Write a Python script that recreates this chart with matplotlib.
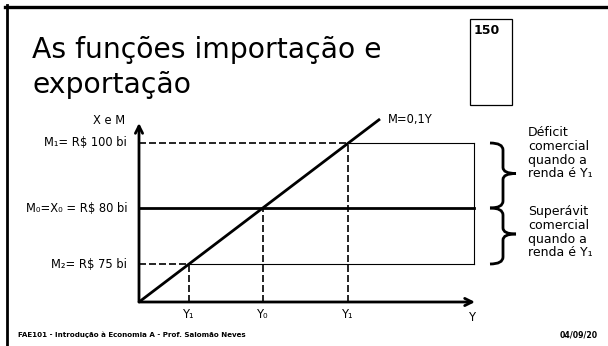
import matplotlib
matplotlib.use("Agg")
import matplotlib.pyplot as plt
from matplotlib.path import Path
from matplotlib.patches import PathPatch, Rectangle

plt.rcParams['font.family'] = ['DejaVu Sans']

# schematic values (diagram units, origin at the axes corner)
level_names = ["M₂= R$ 75 bi", "M₀=X₀ = R$ 80 bi", "M₁= R$ 100 bi"]
level_y = [38, 94, 159]
income_names = ["Y₁", "Y₀", "Y₁"]
income_x = [50, 124, 209]
line_x = [0, 241]
line_y = [0, 183]
box_right = 335
axis_len = [336, 179]
notes = ["Déficit\ncomercial\nquando a\nrenda é Y₁",
         "Superávit\ncomercial\nquando a\nrenda é Y₁"]

fig = plt.figure(figsize=(6.08, 3.46), dpi=100)

# slide background layer in pixel units
bg = fig.add_axes([0, 0, 1, 1])
bg.set_xlim(0, 608)
bg.set_ylim(346, 0)
bg.axis('off')

bg.plot([5, 608], [6.5, 6.5], color='black', lw=2.4)
bg.plot([7, 7], [5, 346], color='black', lw=2.0)

bg.text(32, 58, "As funções importação e", fontsize=20.3, va='baseline', ha='left')
bg.text(32, 93, "exportação", fontsize=20.3, va='baseline', ha='left')

bg.add_patch(Rectangle((470, 19), 42, 86, fill=False, ec='black', lw=0.9))
bg.text(474, 31, "150", fontsize=9, fontweight='bold', va='center', ha='left')

bg.text(18, 337, "FAE101 - Introdução à Economia A - Prof. Salomão Neves",
        fontsize=5.1, fontweight='bold', va='baseline', ha='left')
bg.text(598, 337, "04/09/20", fontsize=5.6, fontweight='bold', va='baseline', ha='right')


def brace(y0, y1, x0=490, x1=503, tip=516):
    ym = (y0 + y1) / 2 - 2
    upper = Path([(x0, y0), (x1, y0), (x1, y0 + 7), (x1, ym - 6), (x1, ym), (tip, ym)],
                 [Path.MOVETO, Path.CURVE3, Path.CURVE3, Path.LINETO, Path.CURVE3, Path.CURVE3])
    lower = Path([(tip, ym), (x1, ym), (x1, ym + 6), (x1, y1 - 7), (x1, y1), (x0, y1)],
                 [Path.MOVETO, Path.CURVE3, Path.CURVE3, Path.LINETO, Path.CURVE3, Path.CURVE3])
    for p in (upper, lower):
        bg.add_patch(PathPatch(p, fill=False, lw=2.0, ec='black'))


brace(143, 208)
brace(208, 264)

bg.text(528, 126, notes[0], fontsize=9, va='top', ha='left', linespacing=1.08)
bg.text(528, 205, notes[1], fontsize=9, va='top', ha='left', linespacing=1.08)

# diagram axes
W, H = 608, 346
ox, oy = 139, 302
ax = fig.add_axes([ox / W, (H - oy) / H, axis_len[0] / W, axis_len[1] / H])
ax.set_xlim(0, axis_len[0])
ax.set_ylim(0, axis_len[1])
ax.axis('off')

for tip in [(0, axis_len[1]), (axis_len[0], 0)]:
    ax.annotate("", xy=tip, xytext=(0, 0),
                arrowprops=dict(arrowstyle='->', lw=2.0, color='black', shrinkA=0, shrinkB=0,
                                mutation_scale=13), annotation_clip=False)

# import function M = 0,1Y
ax.plot(line_x, line_y, color='black', lw=2.0, clip_on=False, solid_capstyle='butt')

dash = (0, (4.2, 1.8))
# X = M0 level (thick), M1 and M2 (dashed then thin)
ax.plot([0, box_right], [level_y[1]] * 2, color='black', lw=2.0, clip_on=False)
for i in (0, 2):
    ax.plot([0, income_x[i]], [level_y[i]] * 2, color='black', lw=1.2, ls=dash, clip_on=False)
    ax.plot([income_x[i], box_right], [level_y[i]] * 2, color='black', lw=0.8, clip_on=False)
ax.plot([box_right, box_right], [level_y[0], level_y[2]], color='black', lw=0.8, clip_on=False)

for x, y in zip(income_x, level_y):
    ax.plot([x, x], [0, y], color='black', lw=1.2, ls=dash, clip_on=False)

for name, y in zip(level_names, level_y):
    ax.text(-12, y, name, fontsize=8.3, ha='right', va='center')
for name, x in zip(income_names, income_x):
    ax.text(x, -6, name, fontsize=8.3, ha='center', va='top')
ax.text(333, -9, "Y", fontsize=8.3, ha='center', va='top')
ax.text(-14, axis_len[1] + 2, "X e M", fontsize=8.3, ha='right', va='center')
ax.text(line_x[1] + 8, line_y[1], "M=0,1Y", fontsize=8.3, ha='left', va='center')

fig.savefig("out.png", dpi=100)
